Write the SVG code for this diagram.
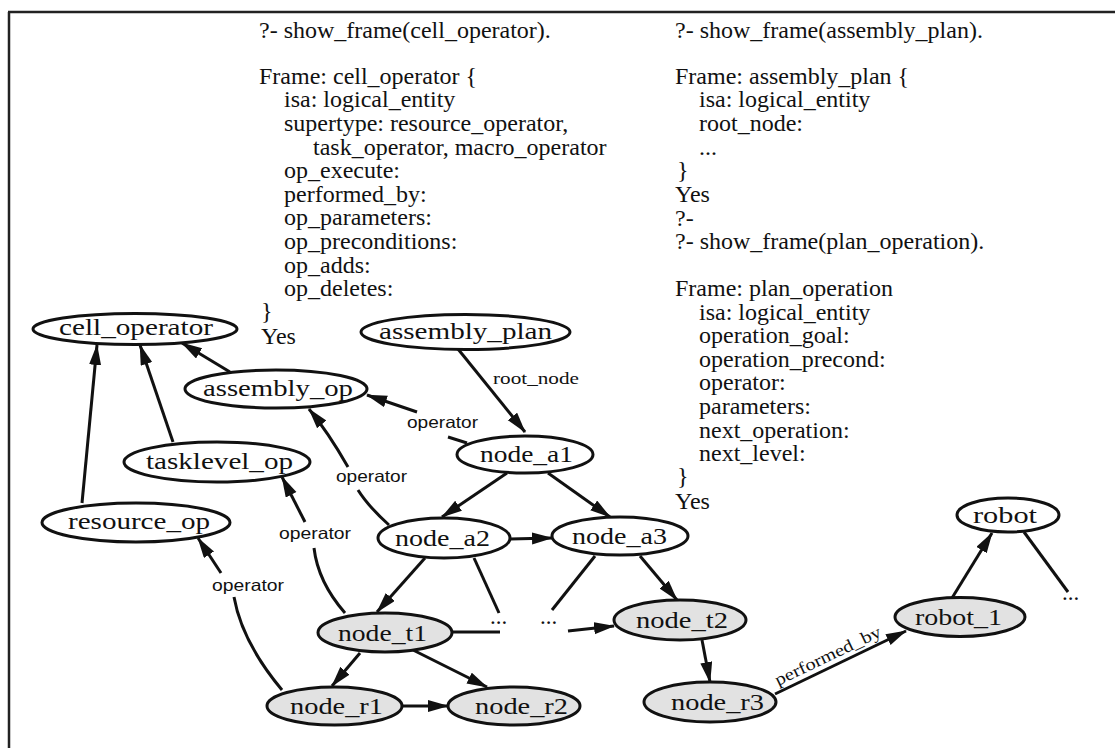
<svg xmlns="http://www.w3.org/2000/svg" width="1115" height="748" viewBox="0 0 1115 748">
<style>
.t{font-family:"Liberation Serif","Times New Roman",serif;font-size:24px;fill:#111}
.nl{font-family:"Liberation Serif","Times New Roman",serif;font-size:23px;fill:#111}
.lab{font-family:"Liberation Sans",Arial,sans-serif;font-size:16.5px;fill:#111}
.labs{font-family:"Liberation Serif","Times New Roman",serif;font-size:17px;fill:#111}
.w ellipse{fill:#fff;stroke:#111;stroke-width:3}
.g ellipse{fill:#e2e2e2;stroke:#111;stroke-width:3}
.e{stroke:#111;stroke-width:3;fill:none}
.a{marker-end:url(#ah)}
</style>
<defs>
<marker id="ah" markerUnits="userSpaceOnUse" markerWidth="24" markerHeight="14" refX="20" refY="6" orient="auto">
<path d="M0,0 L21,6 L0,12 z" fill="#111"/>
</marker>
</defs>
<rect width="1115" height="748" fill="#fff"/>
<g id="border" stroke="#222" stroke-width="2.5" fill="none">
<path d="M8,12 H1115 M9,12 V748"/>
</g>
<g id="frame-cell-operator" class="t">
<text x="259" y="38">?- show_frame(cell_operator).</text>
<text x="259" y="83.5">Frame: cell_operator {</text>
<text x="284" y="107">isa: logical_entity</text>
<text x="284" y="131">supertype: resource_operator,</text>
<text x="313" y="154.5">task_operator, macro_operator</text>
<text x="284" y="178">op_execute:</text>
<text x="284" y="201.5">performed_by:</text>
<text x="284" y="225">op_parameters:</text>
<text x="284" y="249">op_preconditions:</text>
<text x="284" y="272.5">op_adds:</text>
<text x="284" y="296">op_deletes:</text>
<text x="261" y="319">}</text>
<text x="261" y="343.5">Yes</text>
</g>
<g id="frame-assembly-plan" class="t">
<text x="675" y="38">?- show_frame(assembly_plan).</text>
<text x="675" y="83.5">Frame: assembly_plan {</text>
<text x="699" y="107">isa: logical_entity</text>
<text x="699" y="131">root_node:</text>
<text x="699" y="154.5">...</text>
<text x="677" y="177.5">}</text>
<text x="675" y="201.5">Yes</text>
<text x="675" y="225.5">?-</text>
<text x="675" y="249">?- show_frame(plan_operation).</text>
<text x="675" y="296">Frame: plan_operation</text>
<text x="699" y="319.5">isa: logical_entity</text>
<text x="699" y="343">operation_goal:</text>
<text x="699" y="366.5">operation_precond:</text>
<text x="699" y="390">operator:</text>
<text x="699" y="414">parameters:</text>
<text x="699" y="437.5">next_operation:</text>
<text x="699" y="461">next_level:</text>
<text x="677" y="484">}</text>
<text x="675" y="509">Yes</text>
</g>
<g id="connectors">
<path class="e a" d="M82,503 L97,345"/>
<path class="e a" d="M173,442 L140,345"/>
<path class="e a" d="M230,372 L182,343"/>
<path class="e" d="M467,443 L448,437"/>
<path class="e a" d="M417,412 L367,395"/>
<text class="lab" x="407" y="428" textLength="71" lengthAdjust="spacingAndGlyphs">operator</text>
<path class="e" d="M389,525 Q368,506 358,490"/>
<path class="e a" d="M348,467 Q328,432 309,409"/>
<text class="lab" x="336" y="482" textLength="71" lengthAdjust="spacingAndGlyphs">operator</text>
<path class="e" d="M345,613 Q318,582 314,548"/>
<path class="e a" d="M305,522 L282,477"/>
<text class="lab" x="279" y="539" textLength="72" lengthAdjust="spacingAndGlyphs">operator</text>
<path class="e" d="M282,690 Q242,642 234,597"/>
<path class="e a" d="M221,573 L198,538"/>
<text class="lab" x="212" y="591" textLength="72" lengthAdjust="spacingAndGlyphs">operator</text>
<path class="e a" d="M458,349 L525,432"/>
<text class="labs" x="493" y="384" textLength="86" lengthAdjust="spacingAndGlyphs">root_node</text>
<path class="e a" d="M507,473 L442,517"/>
<path class="e a" d="M548,473 L610,517"/>
<path class="e a" d="M510,539 L552,538"/>
<path class="e a" d="M425,558 L377,612"/>
<path class="e" d="M474,558 L499,613"/>
<path class="e" d="M595,556 L552,610"/>
<path class="e a" d="M640,556 L677,600"/>
<path class="e" d="M452,632 L500,632"/>
<path class="e a" d="M568,631 L614,626"/>
<path class="e a" d="M360,653 L332,686"/>
<path class="e a" d="M413,650 L487,687"/>
<path class="e a" d="M402,706 L448,706"/>
<path class="e a" d="M702,640 L710,682"/>
<path class="e a" d="M775,694 L906,631"/>
<text class="labs" transform="translate(778,686) rotate(-25.7)" textLength="116" lengthAdjust="spacingAndGlyphs">performed_by</text>
<path class="e a" d="M952,598 L992,533"/>
<path class="e" d="M1024,532 L1068,592"/>
<text class="nl" x="490" y="624">...</text>
<text class="nl" x="540" y="624">...</text>
<text class="nl" x="1062" y="600">...</text>
</g>
<g id="cell_operator" class="w"><ellipse cx="135" cy="329" rx="102" ry="15.5"/><text class="nl" x="59" y="334.5" textLength="154" lengthAdjust="spacingAndGlyphs">cell_operator</text></g>
<g id="assembly_plan" class="w"><ellipse cx="465.5" cy="332" rx="104.5" ry="17.5"/><text class="nl" x="379" y="339" textLength="173" lengthAdjust="spacingAndGlyphs">assembly_plan</text></g>
<g id="assembly_op" class="w"><ellipse cx="276" cy="389" rx="91" ry="19"/><text class="nl" x="203" y="395.5" textLength="150" lengthAdjust="spacingAndGlyphs">assembly_op</text></g>
<g id="tasklevel_op" class="w"><ellipse cx="217" cy="462" rx="93" ry="20"/><text class="nl" x="146" y="468.5" textLength="147" lengthAdjust="spacingAndGlyphs">tasklevel_op</text></g>
<g id="resource_op" class="w"><ellipse cx="136" cy="522.5" rx="94" ry="19.5"/><text class="nl" x="68" y="529" textLength="142" lengthAdjust="spacingAndGlyphs">resource_op</text></g>
<g id="node_a1" class="w"><ellipse cx="525" cy="454.5" rx="68" ry="18.5"/><text class="nl" x="480" y="462" textLength="93" lengthAdjust="spacingAndGlyphs">node_a1</text></g>
<g id="node_a2" class="w"><ellipse cx="444" cy="538" rx="66" ry="20"/><text class="nl" x="395" y="546" textLength="95" lengthAdjust="spacingAndGlyphs">node_a2</text></g>
<g id="node_a3" class="w"><ellipse cx="620" cy="536" rx="68" ry="19"/><text class="nl" x="572" y="544" textLength="95" lengthAdjust="spacingAndGlyphs">node_a3</text></g>
<g id="node_t1" class="g"><ellipse cx="385" cy="632.5" rx="67" ry="19.5"/><text class="nl" x="338" y="641" textLength="89" lengthAdjust="spacingAndGlyphs">node_t1</text></g>
<g id="node_r1" class="g"><ellipse cx="334.5" cy="706" rx="67.5" ry="19"/><text class="nl" x="290" y="714" textLength="93" lengthAdjust="spacingAndGlyphs">node_r1</text></g>
<g id="node_r2" class="g"><ellipse cx="514" cy="706" rx="66" ry="19"/><text class="nl" x="475" y="714" textLength="93" lengthAdjust="spacingAndGlyphs">node_r2</text></g>
<g id="node_t2" class="g"><ellipse cx="680" cy="620" rx="66" ry="20"/><text class="nl" x="636" y="628" textLength="92" lengthAdjust="spacingAndGlyphs">node_t2</text></g>
<g id="node_r3" class="g"><ellipse cx="710" cy="702" rx="66" ry="20"/><text class="nl" x="671" y="710" textLength="93" lengthAdjust="spacingAndGlyphs">node_r3</text></g>
<g id="robot_1" class="g"><ellipse cx="960" cy="617" rx="65" ry="19.5"/><text class="nl" x="915" y="624.5" textLength="87" lengthAdjust="spacingAndGlyphs">robot_1</text></g>
<g id="robot" class="w"><ellipse cx="1008" cy="515" rx="51" ry="17"/><text class="nl" x="973" y="522.5" textLength="64" lengthAdjust="spacingAndGlyphs">robot</text></g>
</svg>
